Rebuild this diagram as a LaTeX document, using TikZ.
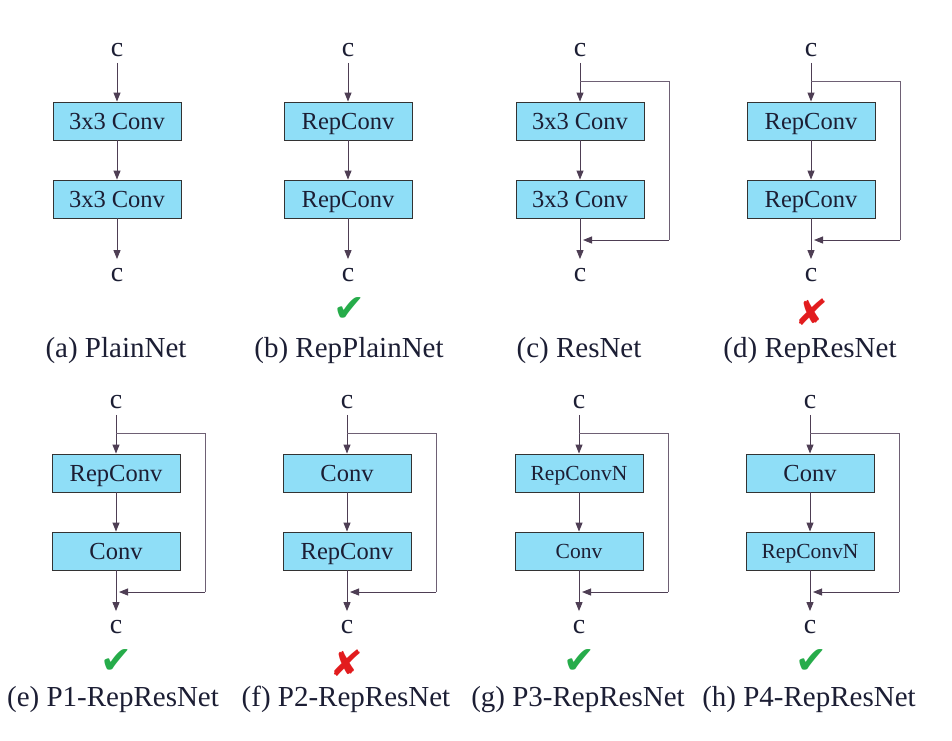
\documentclass[tikz,border=0pt]{standalone}
\usepackage{fontspec}
\setmainfont{Liberation Serif}
\newfontfamily\symfont{DejaVu Sans}
\usetikzlibrary{arrows.meta}
\definecolor{boxfill}{RGB}{143,222,247}
\definecolor{linec}{RGB}{78,62,84}
\definecolor{bypassc}{RGB}{110,96,116}
\definecolor{okgreen}{RGB}{38,172,74}
\definecolor{badred}{RGB}{226,28,30}
\definecolor{txtc}{RGB}{28,30,52}
\tikzset{
  convbox/.style={draw=black!80, fill=boxfill, line width=0.9pt, minimum width=128pt,
    minimum height=38pt, inner sep=0pt, text=txtc, font=\fontsize{24.5}{25}\selectfont,
    text height=16pt, text depth=0pt},
  smalltxt/.style={font=\fontsize{21.5}{22}\selectfont, text height=14pt},
  normtxt/.style={},
  iotxt/.style={font=\fontsize{28}{28}\selectfont, inner sep=0pt, text=txtc},
  flow/.style={draw=linec, line width=1pt, -{Triangle[length=9pt,width=7pt]}},
  bypass/.style={draw=bypassc, line width=0.9pt},
  sublabel/.style={font=\fontsize{29}{29}\selectfont, inner sep=0pt, anchor=base, text=txtc},
  okmark/.style={font=\symfont\fontsize{38}{38}\selectfont, text=okgreen, inner sep=0pt},
  badmark/.style={font=\symfont\fontsize{36}{36}\selectfont, text=badred, inner sep=0pt, xslant=0.15},
}
% #1 id, #2 x, #3 dy, #4 text1, #5 style1, #6 text2, #7 style2
\newcommand\mypanel[7]{%
  \node[iotxt] (#1in) at ({#2},{50+#3}) {c};
  \node[convbox,#5] (#1b1) at ({#2},{121+#3}) {#4};
  \node[convbox,#7] (#1b2) at ({#2},{199+#3}) {#6};
  \node[iotxt] (#1out) at ({#2},{275+#3}) {c};
  \draw[flow] ([yshift=-6pt]#1in.south) -- (#1b1.north);
  \draw[flow] (#1b1.south) -- (#1b2.north);
  \draw[flow] (#1b2.south) -- ([yshift=9pt]#1out.north);
}
% #1 id, #2 x, #3 dy
\newcommand\mybypass[3]{%
  \coordinate (#1sp) at ({#2},{81+#3});
  \coordinate (#1r1) at ({#2+89},{81+#3});
  \coordinate (#1r2) at ({#2+89},{240+#3});
  \coordinate (#1jn) at ({#2+3},{240+#3});
  \draw[bypass] (#1sp) -- (#1r1) -- (#1r2);
  \draw[bypass, -{Triangle[length=9pt,width=7pt]}, draw=linec] (#1r2) -- (#1jn);
}
\begin{document}
\begin{tikzpicture}[x=1pt,y=-1pt]
\useasboundingbox[fill=white] (0,0) rectangle (952,740);
% top row
\mypanel{a}{117}{0}{3x3 Conv}{normtxt}{3x3 Conv}{normtxt}
\mypanel{b}{348}{0}{RepConv}{normtxt}{RepConv}{normtxt}
\mypanel{c}{580}{0}{3x3 Conv}{normtxt}{3x3 Conv}{normtxt}
\mybypass{c}{580}{0}
\mypanel{d}{811}{0}{RepConv}{normtxt}{RepConv}{normtxt}
\mybypass{d}{811}{0}
\node[okmark] (bmark) at (349,310) {✔};
\node[badmark] (dmark) at (812,312) {✘};
\node[sublabel] (alab) at (116,357) {(a) PlainNet};
\node[sublabel] (blab) at (349,357) {(b) RepPlainNet};
\node[sublabel] (clab) at (579,357) {(c) ResNet};
\node[sublabel] (dlab) at (810,357) {(d) RepResNet};
% bottom row
\mypanel{e}{116}{352}{RepConv}{normtxt}{Conv}{normtxt}
\mybypass{e}{116}{352}
\mypanel{f}{347}{352}{Conv}{normtxt}{RepConv}{normtxt}
\mybypass{f}{347}{352}
\mypanel{g}{579}{352}{RepConvN}{smalltxt}{Conv}{smalltxt}
\mybypass{g}{579}{352}
\mypanel{h}{810}{352}{Conv}{normtxt}{RepConvN}{smalltxt}
\mybypass{h}{810}{352}
\node[okmark] (emark) at (116,661) {✔};
\node[badmark] (fmark) at (347,663) {✘};
\node[okmark] (gmark) at (579,661) {✔};
\node[okmark] (hmark) at (811,661) {✔};
\node[sublabel] (elab) at (113,706) {(e) P1-RepResNet};
\node[sublabel] (flab) at (346,706) {(f) P2-RepResNet};
\node[sublabel] (glab) at (578,706) {(g) P3-RepResNet};
\node[sublabel] (hlab) at (809,706) {(h) P4-RepResNet};
\end{tikzpicture}
\end{document}
